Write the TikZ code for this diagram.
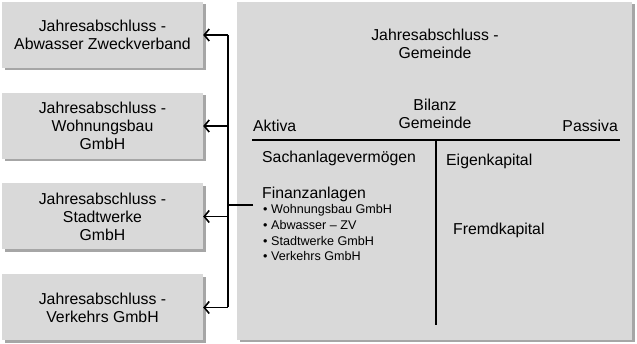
\documentclass[tikz,border=0pt]{standalone}
\usepackage{fontspec}
\setmainfont{Liberation Sans}
\usetikzlibrary{arrows.meta,shadows}

\definecolor{boxgray}{HTML}{D9D9D9}
\definecolor{shadowgray}{HTML}{A6A6A6}

\begin{document}
\begin{tikzpicture}[
    x=1pt, y=-1pt,
    font=\fontsize{15.8}{18}\selectfont,
    sheet/.style={fill=boxgray, general shadow={fill=shadowgray, shadow xshift=2.5pt, shadow yshift=-2.5pt}},
    subbox/.style={sheet, minimum width=201pt, minimum height=66pt, align=center, inner sep=2pt},
    lbl/.style={inner sep=0pt, anchor=base west},
    small/.style={font=\fontsize{12.6}{15}\selectfont},
    conn/.style={line width=1.6pt},
    arr/.style={conn, -{Straight Barb[length=5pt,width=12pt,line width=1.6pt]}},
    tline/.style={line width=1.5pt},
]
    \useasboundingbox (0,0) rectangle (637,344);

    % Left column: the annual accounts of the holdings
    \node[subbox] (abwzv) at (102.5,35) {Jahresabschluss -\\Abwasser Zweckverband};
    \node[subbox] (wohnbau) at (102.5,126) {Jahresabschluss -\\Wohnungsbau\\GmbH};
    \node[subbox] (stadtw) at (102.5,216.5) {Jahresabschluss -\\Stadtwerke\\GmbH};
    \node[subbox] (verkehr) at (102.5,307.5) {Jahresabschluss -\\Verkehrs GmbH};

    % Right: municipality with its balance sheet
    \node[sheet, minimum width=395pt, minimum height=338pt] (gemeinde) at (434.5,171) {};
    \node[align=center] (gemtitle) at (435,44) {Jahresabschluss -\\Gemeinde};
    \node[align=center] (bilanz) at (435,114) {Bilanz\\Gemeinde};
    \node[lbl] (aktiva) at (253,131.5) {Aktiva};
    \node[lbl, anchor=base east] (passiva) at (618,131.5) {Passiva};

    % T-account
    \coordinate (tl) at (252,140);
    \coordinate (tr) at (620,140);
    \coordinate (ttop) at (436,140);
    \coordinate (tbot) at (436,325);
    \draw[tline] (tl) -- (tr);
    \draw[tline] (ttop) -- (tbot);

    \node[lbl] (sach) at (262,163) {Sachanlagevermögen};
    \node[lbl] (eigen) at (446,165.5) {Eigenkapital};
    \node[lbl] (fremd) at (453,235) {Fremdkapital};
    \node[lbl] (finanz) at (262,199) {Finanzanlagen};
    \foreach \item [count=\i] in {Wohnungsbau GmbH, Abwasser -- ZV, Stadtwerke GmbH, Verkehrs GmbH}
        \node[lbl, small] (fin\i) at (263,{214+15.6*(\i-1)}) {• \item};

    % Connectors from the financial assets to the holdings
    \coordinate (tap1) at (228,35);
    \coordinate (tap2) at (228,126);
    \coordinate (tap3) at (228,216.5);
    \coordinate (tap4) at (228,307.5);
    \coordinate (hub) at (228,205);
    \coordinate (finin) at (253,205);
    \draw[conn] (finin) -- (hub);
    \draw[conn] (tap1) -- (tap4);
    \draw[arr] (tap1) -- (abwzv.east);
    \draw[arr] (tap2) -- (wohnbau.east);
    \draw[arr] (tap3) -- (stadtw.east);
    \draw[arr] (tap4) -- (verkehr.east);
\end{tikzpicture}
\end{document}
